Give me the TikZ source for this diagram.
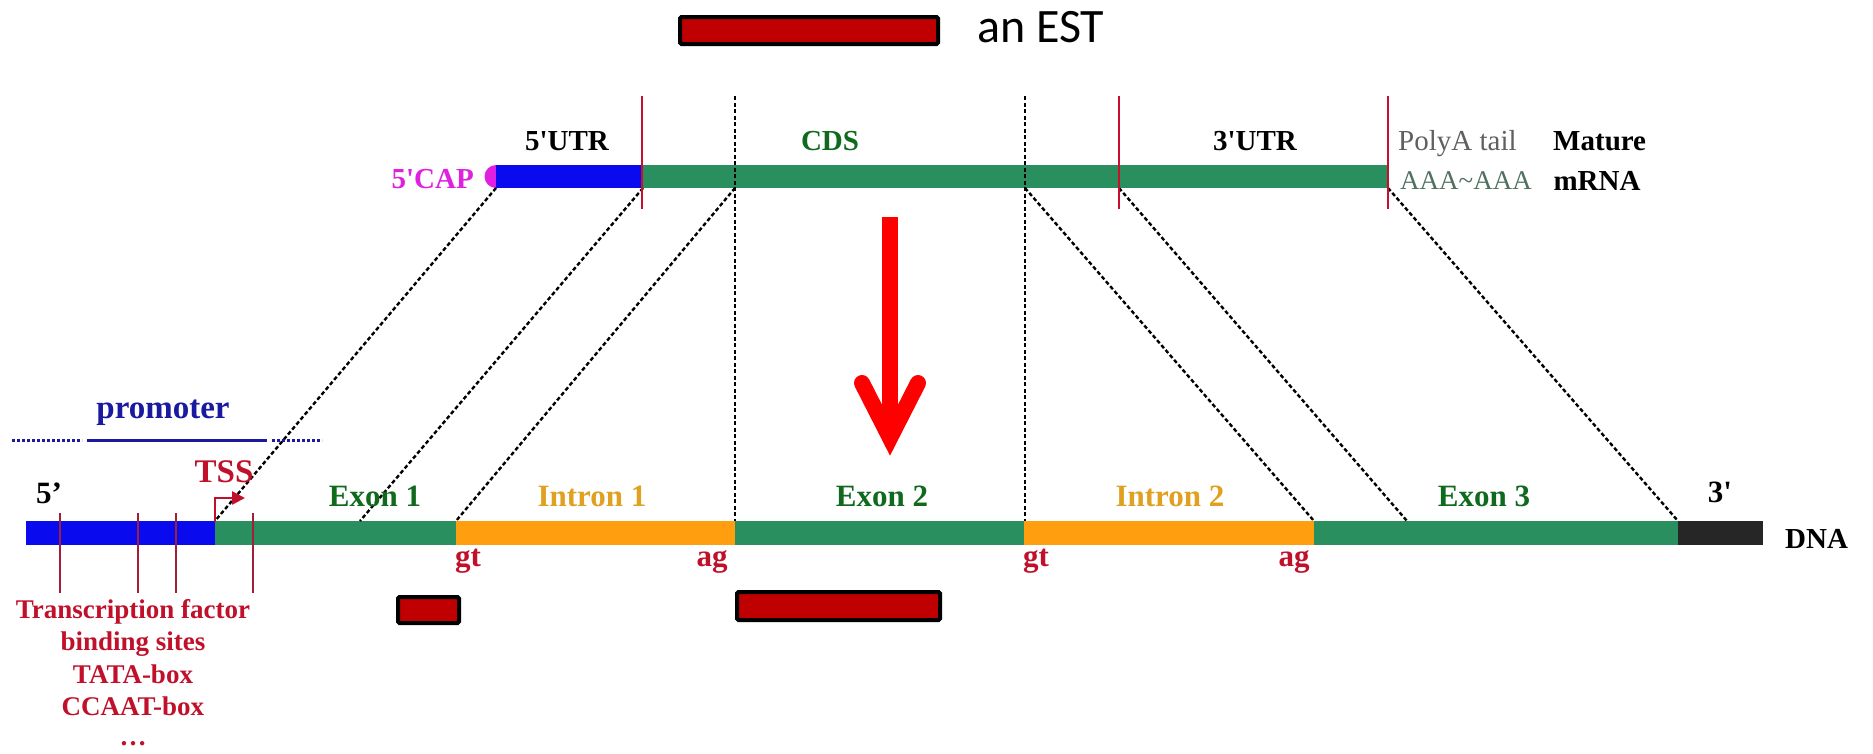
\documentclass[tikz,border=0pt]{standalone}
\usepackage{fontspec}
\usetikzlibrary{arrows.meta}
\setmainfont{Liberation Serif}[Ligatures=TeXOff]
\newfontfamily\calibri{Carlito}
\definecolor{dblue}{HTML}{0A0AEE}
\definecolor{dgreen}{HTML}{2A8F5E}
\definecolor{dorange}{HTML}{FF9F10}
\definecolor{dblack}{HTML}{262626}
\definecolor{capmag}{HTML}{E020E0}
\definecolor{estred}{HTML}{C00000}
\definecolor{tickred}{HTML}{C8102E}
\definecolor{tickdark}{HTML}{A0203A}
\definecolor{txtgreen}{HTML}{0F6A1E}
\definecolor{txtorange}{HTML}{E0A020}
\definecolor{txtred}{HTML}{C0102A}
\definecolor{txtblue}{HTML}{1A1AA0}
\definecolor{txtgray}{HTML}{606060}
\definecolor{txtgg}{HTML}{507060}
\begin{document}
\begin{tikzpicture}[x=1pt,y=-1pt,
  seg/.style={draw=none,rectangle,inner sep=0,outer sep=0,anchor=north west},
  est/.style={draw=black,line width=4pt,fill=estred,rounded corners=1.5pt,rectangle,inner sep=0,outer sep=0,anchor=north west},
  conn/.style={line width=2.4pt,black,dash pattern=on 4pt off 2.5pt},
  vconn/.style={line width=2pt,black,dash pattern=on 4pt off 2.5pt},
  rtick/.style={line width=2pt,tickred},
  dtick/.style={line width=2.5pt,tickdark},
  mlbl/.style={font=\bfseries\fontsize{29}{29}\selectfont,inner sep=0,anchor=base},
  dlbl/.style={font=\bfseries\fontsize{31}{31}\selectfont,inner sep=0,anchor=base},
  blbl/.style={font=\bfseries\fontsize{27}{27}\selectfont,inner sep=0,anchor=base,text=txtred}
]
\useasboundingbox (0,0) rectangle (1873,753);
\fill[white] (0,0) rectangle (1873,753);

% top EST legend
\node[est,minimum width=258pt,minimum height=27pt] (estTop) at (680,17) {};
\node[font=\calibri\fontsize{48}{48}\selectfont,inner sep=0,anchor=base west] (estLbl) at (977,42) {an EST};

% mRNA
\fill[capmag] (496,176.5) circle (11.5);
\node[seg,fill=dblue,minimum width=145pt,minimum height=23pt] (mblue) at (496,165) {};
\node[seg,fill=dgreen,minimum width=747pt,minimum height=23pt] (mgreen) at (641,165) {};

% mRNA coordinates
\coordinate (m1) at (496,188);
\coordinate (m2) at (643,188);
\coordinate (m3) at (735,188);
\coordinate (m4) at (1025,188);
\coordinate (m5) at (1119,188);
\coordinate (m6) at (1388,188);
\coordinate (v1t) at (735,96);
\coordinate (v2t) at (1025,96);

% DNA
\node[seg,fill=dblue,minimum width=189pt,minimum height=24pt] (dA) at (26,521) {};
\node[seg,fill=dgreen,minimum width=241pt,minimum height=24pt] (dB) at (215,521) {};
\node[seg,fill=dorange,minimum width=279pt,minimum height=24pt] (dC) at (456,521) {};
\node[seg,fill=dgreen,minimum width=289pt,minimum height=24pt] (dD) at (735,521) {};
\node[seg,fill=dorange,minimum width=290pt,minimum height=24pt] (dE) at (1024,521) {};
\node[seg,fill=dgreen,minimum width=364pt,minimum height=24pt] (dF) at (1314,521) {};
\node[seg,fill=dblack,minimum width=85pt,minimum height=24pt] (dG) at (1678,521) {};

\coordinate (d1) at (215,521);
\coordinate (d2) at (360,521);
\coordinate (d3) at (456,521);
\coordinate (d4) at (735,521);
\coordinate (d5) at (1025,521);
\coordinate (d6) at (1314,521);
\coordinate (d7) at (1407,521);
\coordinate (d8) at (1678,521);

% connectors
\draw[conn] (m1) -- (d1);
\draw[conn] (m2) -- (d2);
\draw[conn] (m3) -- (d3);
\draw[vconn] (v1t) -- (d4);
\draw[vconn] (v2t) -- (d5);
\draw[conn] (m4) -- (d6);
\draw[conn] (m5) -- (d7);
\draw[conn] (m6) -- (d8);

% red ticks on mRNA
\coordinate (r1t) at (642,96); \coordinate (r1b) at (642,209);
\coordinate (r2t) at (1119,96); \coordinate (r2b) at (1119,209);
\coordinate (r3t) at (1388,96); \coordinate (r3b) at (1388,209);
\draw[rtick] (r1t) -- (r1b);
\draw[rtick] (r2t) -- (r2b);
\draw[rtick] (r3t) -- (r3b);

% mRNA labels
\node[mlbl,anchor=base east,text=capmag] (capLbl) at (474,188) {5'CAP};
\node[mlbl] (utr5) at (567,150) {5'UTR};
\node[mlbl,text=txtgreen] (cds) at (830,150) {CDS};
\node[mlbl] (utr3) at (1255,150) {3'UTR};
\node[font=\fontsize{29}{29}\selectfont,inner sep=0,anchor=base west,text=txtgray] (polyA) at (1398,150) {PolyA tail};
\node[font=\fontsize{27}{27}\selectfont,inner sep=0,anchor=base west,text=txtgg] (aaa) at (1400,189) {AAA\textasciitilde AAA};
\node[mlbl,anchor=base west] (mature) at (1553,150) {Mature};
\node[mlbl] (mrna) at (1597,190) {mRNA};

% big red arrow
\coordinate (arT) at (890,217);
\coordinate (arB) at (890,432);
\draw[red,line width=16pt] (arT) -- (arB);
\coordinate (arL) at (862,383);
\coordinate (arR) at (918,383);
\coordinate (arTip) at (890,438);
\draw[red,line width=16pt,line cap=round,line join=miter] (arL) -- (arTip) -- (arR);

% promoter
\coordinate (p0) at (12,440); \coordinate (p1) at (82,440);
\coordinate (p2) at (87,440); \coordinate (p3) at (267,440);
\coordinate (p4) at (272,440); \coordinate (p5) at (322,440);
\draw[txtblue,line width=3pt,dash pattern=on 3pt off 2pt] (p0) -- (p1);
\draw[txtblue,line width=3pt] (p2) -- (p3);
\draw[txtblue,line width=3pt,dash pattern=on 3pt off 2pt] (p4) -- (p5);
\node[font=\bfseries\fontsize{33}{33}\selectfont,inner sep=0,anchor=base,text=txtblue] (prom) at (163,418) {promoter};

% TSS
\coordinate (tssA) at (215,522);
\coordinate (tssB) at (215,498);
\coordinate (tssC) at (245,498);
\draw[txtred,line width=2.5pt,-{Triangle[length=13pt,width=13pt]}] (tssA) -- (tssB) -- (tssC);
\node[font=\bfseries\fontsize{33}{33}\selectfont,inner sep=0,anchor=base,text=txtred] (tss) at (224,482) {TSS};

% DNA labels
\node[dlbl] (five) at (49,503) {5’};
\node[dlbl] (three) at (1720,502) {3'};
\node[dlbl,text=txtgreen] (ex1) at (375,506) {Exon 1};
\node[dlbl,text=txtorange] (in1) at (592,506) {Intron 1};
\node[dlbl,text=txtgreen] (ex2) at (882,506) {Exon 2};
\node[dlbl,text=txtorange] (in2) at (1170,506) {Intron 2};
\node[dlbl,text=txtgreen] (ex3) at (1484,506) {Exon 3};
\node[font=\bfseries\fontsize{29}{29}\selectfont,inner sep=0,anchor=base west] (dna) at (1785,548) {DNA};
\node[dlbl,text=txtred] (gt1) at (468,566) {gt};
\node[dlbl,text=txtred] (ag1) at (712,566) {ag};
\node[dlbl,text=txtred] (gt2) at (1036,566) {gt};
\node[dlbl,text=txtred] (ag2) at (1294,566) {ag};

% binding-site ticks
\coordinate (b1t) at (60,513); \coordinate (b1b) at (60,593);
\coordinate (b2t) at (138,513); \coordinate (b2b) at (138,593);
\coordinate (b3t) at (176,513); \coordinate (b3b) at (176,593);
\coordinate (b4t) at (253,513); \coordinate (b4b) at (253,593);
\draw[dtick] (b1t) -- (b1b);
\draw[dtick] (b2t) -- (b2b);
\draw[dtick] (b3t) -- (b3b);
\draw[dtick] (b4t) -- (b4b);

% bottom text
\node[blbl] (tf1) at (133,618) {Transcription factor};
\node[blbl] (tf2) at (133,650) {binding sites};
\node[blbl] (tf3) at (133,683) {TATA-box};
\node[blbl] (tf4) at (133,715) {CCAAT-box};
\node[blbl] (tf5) at (133,745) {\dots};

% EST reads
\node[est,minimum width=61pt,minimum height=26pt] (estS) at (398,597) {};
\node[est,minimum width=203pt,minimum height=28pt] (estL) at (737,592) {};
\end{tikzpicture}
\end{document}
